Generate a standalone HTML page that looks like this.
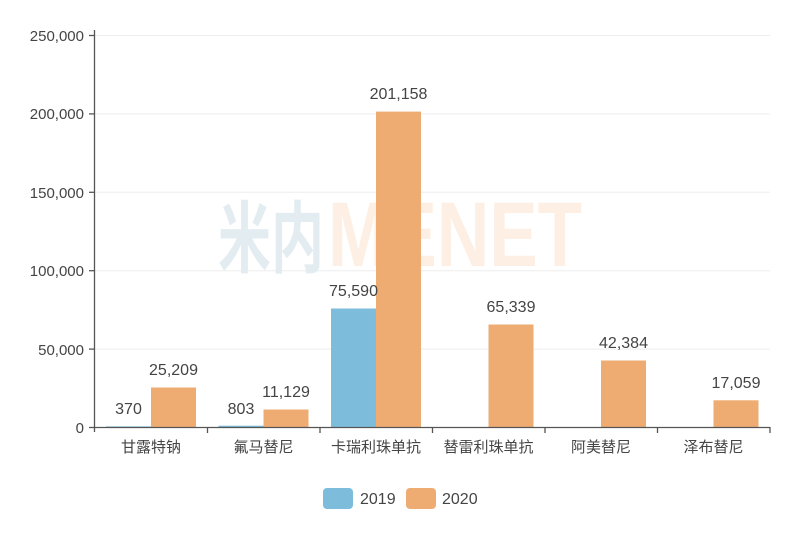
<!DOCTYPE html>
<html><head><meta charset="utf-8"><style>html,body{margin:0;padding:0;background:#fff}svg{display:block}</style></head><body>
<svg width="800" height="533" xmlns="http://www.w3.org/2000/svg" font-family="'Liberation Sans','Noto Sans CJK SC',sans-serif">
<rect width="800" height="533" fill="#fff"/>
<g stroke="#eeeeee" stroke-width="1">
<line x1="95" y1="35.5" x2="770" y2="35.5"/>
<line x1="95" y1="113.9" x2="770" y2="113.9"/>
<line x1="95" y1="192.3" x2="770" y2="192.3"/>
<line x1="95" y1="270.7" x2="770" y2="270.7"/>
<line x1="95" y1="349.1" x2="770" y2="349.1"/>
</g>
<text x="218" y="266" font-size="78" font-weight="bold" fill="#e3edf1" textLength="106" lengthAdjust="spacingAndGlyphs">米内</text>
<text x="328" y="266" font-size="92" font-weight="bold" fill="#fdefe3" textLength="254" lengthAdjust="spacingAndGlyphs">MENET</text>
<g fill="#7dbcda">
<rect x="106" y="426.4" width="45" height="0.6"/>
<rect x="218.5" y="425.7" width="45" height="1.3"/>
<rect x="331" y="308.5" width="45" height="118.5"/>
</g>
<g fill="#eeac72">
<rect x="151" y="387.5" width="45" height="39.5"/>
<rect x="263.5" y="409.5" width="45" height="17.5"/>
<rect x="376" y="111.6" width="45" height="315.4"/>
<rect x="488.5" y="324.5" width="45" height="102.5"/>
<rect x="601" y="360.5" width="45" height="66.5"/>
<rect x="713.5" y="400.3" width="45" height="26.7"/>
</g>
<g stroke="#555" stroke-width="1.3">
<line x1="94.5" y1="30" x2="94.5" y2="432"/>
<line x1="94" y1="427.5" x2="770" y2="427.5"/>
<line x1="89" y1="35.5" x2="95" y2="35.5"/>
<line x1="89" y1="113.9" x2="95" y2="113.9"/>
<line x1="89" y1="192.3" x2="95" y2="192.3"/>
<line x1="89" y1="270.7" x2="95" y2="270.7"/>
<line x1="89" y1="349.1" x2="95" y2="349.1"/>
<line x1="89" y1="427.5" x2="95" y2="427.5"/>
<line x1="207.5" y1="427" x2="207.5" y2="433"/>
<line x1="320" y1="427" x2="320" y2="433"/>
<line x1="432.5" y1="427" x2="432.5" y2="433"/>
<line x1="545" y1="427" x2="545" y2="433"/>
<line x1="657.5" y1="427" x2="657.5" y2="433"/>
<line x1="770" y1="427" x2="770" y2="433"/>
</g>
<g font-size="15" fill="#444" text-anchor="end">
<text x="84" y="41">250,000</text>
<text x="84" y="119">200,000</text>
<text x="84" y="198">150,000</text>
<text x="84" y="276">100,000</text>
<text x="84" y="355">50,000</text>
<text x="84" y="433">0</text>
</g>
<g font-size="15" fill="#444" text-anchor="middle">
<text x="151" y="452">甘露特钠</text>
<text x="263.5" y="452">氟马替尼</text>
<text x="376" y="452">卡瑞利珠单抗</text>
<text x="488.5" y="452">替雷利珠单抗</text>
<text x="601" y="452">阿美替尼</text>
<text x="713.5" y="452">泽布替尼</text>
</g>
<g font-size="16" fill="#444" text-anchor="middle">
<text x="128.5" y="414">370</text>
<text x="173.5" y="375">25,209</text>
<text x="241" y="414">803</text>
<text x="286" y="397">11,129</text>
<text x="353.5" y="296">75,590</text>
<text x="398.5" y="99">201,158</text>
<text x="511" y="312">65,339</text>
<text x="623.5" y="348">42,384</text>
<text x="736" y="388">17,059</text>
</g>
<rect x="323" y="488" width="30" height="21" rx="4" fill="#7dbcda"/>
<text x="360" y="504" font-size="16" fill="#444">2019</text>
<rect x="406" y="488" width="30" height="21" rx="4" fill="#eeac72"/>
<text x="442" y="504" font-size="16" fill="#444">2020</text>
</svg>
</body></html>
